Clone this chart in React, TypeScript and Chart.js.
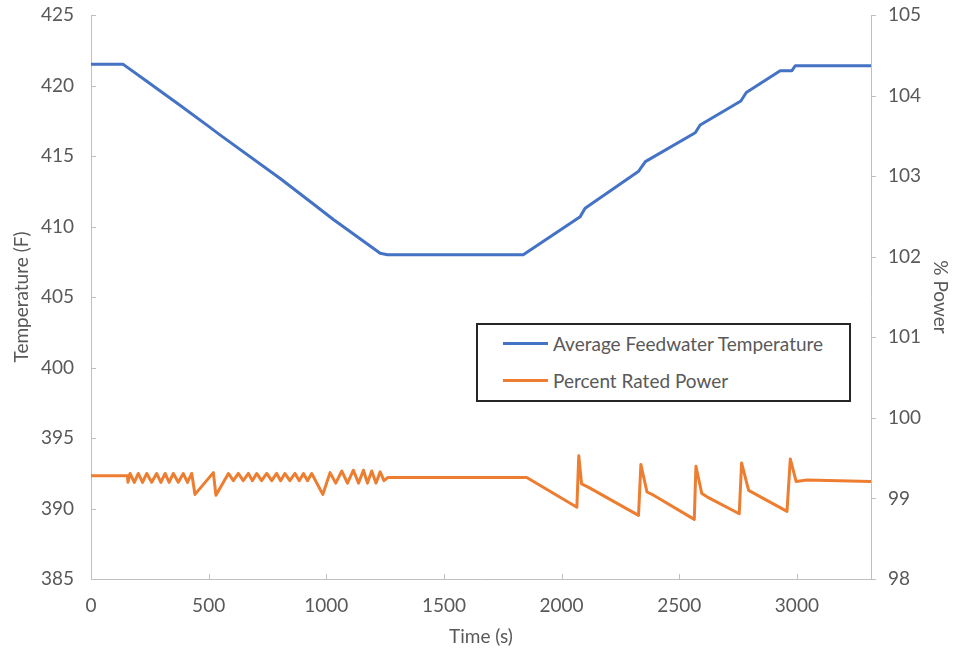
import React, { useEffect, useRef } from "react";
import { Chart, registerables } from "chart.js";

Chart.register(...registerables);

// ---- data ----
const tempTimes = [0, 137, 237, 378, 500, 548, 804, 945, 1030, 1229, 1260, 1837, 2079, 2100, 2326, 2356, 2568, 2589, 2762, 2785, 2929, 2979, 2993, 3315];
const tempValues = [421.5, 421.5, 420.3, 418.6, 417.1, 416.5, 413.4, 411.6, 410.5, 408.1, 408.0, 408.0, 410.7, 411.3, 413.9, 414.6, 416.65, 417.2, 418.9, 419.5, 421.05, 421.05, 421.4, 421.4];

const powerTimes = [
  0, 155, 157, 166, 184, 201, 219, 237, 258, 279, 297, 315, 332, 350, 371, 392, 410, 428, 442, 520, 531,
  584, 605, 626, 647, 669, 686, 704, 725, 747, 768, 789, 806, 824, 845, 867, 885, 903, 920, 938, 985,
  1016, 1040, 1066, 1090, 1115, 1137, 1158, 1175, 1193, 1211, 1229, 1245, 1262, 1500, 1852,
  2065, 2073, 2085, 2113, 2327, 2337, 2363, 2391, 2564, 2571, 2596, 2618, 2755, 2765, 2795, 2958, 2972, 2997, 3043, 3315,
];
const powerValues = [
  99.28, 99.28, 99.2, 99.31, 99.2, 99.31, 99.2, 99.31, 99.2, 99.31, 99.2, 99.31, 99.2, 99.31, 99.2, 99.31, 99.2, 99.31, 99.05, 99.32, 99.04,
  99.31, 99.22, 99.31, 99.22, 99.31, 99.22, 99.31, 99.22, 99.31, 99.22, 99.31, 99.22, 99.31, 99.22, 99.31, 99.22, 99.31, 99.22, 99.31, 99.05,
  99.32, 99.19, 99.34, 99.19, 99.35, 99.19, 99.35, 99.19, 99.34, 99.19, 99.33, 99.22, 99.26, 99.26, 99.26,
  98.89, 99.53, 99.18, 99.14, 98.79, 99.42, 99.08, 99.04, 98.74, 99.4, 99.06, 99.02, 98.81, 99.44, 99.1, 98.84, 99.49, 99.21, 99.23, 99.21,
];

const xTickValues = [0, 500, 1000, 1500, 2000, 2500, 3000];
const tempTickValues = [385, 390, 395, 400, 405, 410, 415, 420, 425];
const powerTickValues = [98, 99, 100, 101, 102, 103, 104, 105];

const seriesNames = ["Average Feedwater Temperature", "Percent Rated Power"];
const xTitle = "Time (s)";
const yTitle = "Temperature (F)";
const y1Title = "% Power";

// ---- styles ----
const BLUE = "#4472C4";
const ORANGE = "#ED7D31";
const AXIS = "#BFBFBF";
const TEXT = "#595959";
const FONT = "Lato, 'Open Sans', sans-serif";
const FS = 19;

const tickMarks = {
  id: "tickMarks",
  beforeDatasetsDraw(chart: any) {
    const ctx = chart.ctx;
    const { x, y, y1 } = chart.scales;
    ctx.save();
    ctx.strokeStyle = AXIS;
    ctx.lineWidth = 1;
    ctx.beginPath();
    x.ticks.forEach((t: any) => {
      const px = Math.round(x.getPixelForValue(t.value)) + 0.5;
      ctx.moveTo(px, x.top);
      ctx.lineTo(px, x.top - 5);
    });
    y.ticks.forEach((t: any) => {
      const py = Math.round(y.getPixelForValue(t.value)) + 0.5;
      ctx.moveTo(y.right, py);
      ctx.lineTo(y.right + 5, py);
    });
    y1.ticks.forEach((t: any) => {
      const py = Math.round(y1.getPixelForValue(t.value)) + 0.5;
      ctx.moveTo(y1.left, py);
      ctx.lineTo(y1.left + 5, py);
    });
    ctx.stroke();
    ctx.restore();
  },
};

export default function App() {
  const ref = useRef<HTMLCanvasElement | null>(null);

  useEffect(() => {
    if (!ref.current) return;
    const font = { family: FONT, size: FS };
    const titleFont = { family: FONT, size: FS, lineHeight: 1 };
    const plain = (v: any) => String(v);
    const chart = new Chart(ref.current, {
      type: "line",
      data: {
        datasets: [
          {
            label: seriesNames[0],
            data: tempTimes.map((t, i) => ({ x: t, y: tempValues[i] })),
            borderColor: BLUE,
            backgroundColor: BLUE,
            borderWidth: 3,
            pointRadius: 0,
            tension: 0,
            yAxisID: "y",
            borderJoinStyle: "round",
          },
          {
            label: seriesNames[1],
            data: powerTimes.map((t, i) => ({ x: t, y: powerValues[i] })),
            borderColor: ORANGE,
            backgroundColor: ORANGE,
            borderWidth: 3,
            pointRadius: 0,
            tension: 0,
            yAxisID: "y1",
            borderJoinStyle: "round",
          },
        ],
      },
      options: {
        animation: false,
        responsive: false,
        devicePixelRatio: 1,
        events: [],
        layout: { padding: { top: 15, left: 0, right: 0, bottom: 0 } },
        plugins: { legend: { display: false }, tooltip: { enabled: false } },
        scales: {
          x: {
            type: "linear",
            min: 0,
            max: 3315,
            afterBuildTicks: (s: any) => {
              s.ticks = xTickValues.map((v) => ({ value: v }));
            },
            afterFit: (s: any) => {
              s.height = 78;
              s.paddingLeft = 0;
              s.paddingRight = 0;
            },
            grid: { display: true, drawOnChartArea: false, drawTicks: false },
            border: { display: true, color: AXIS, width: 1 },
            ticks: { font, color: TEXT, padding: 15, maxRotation: 0, autoSkip: false, callback: plain },
            title: { display: true, text: xTitle, font: titleFont, color: TEXT, padding: { top: 0, bottom: 11 } },
          },
          y: {
            type: "linear",
            position: "left",
            min: 385,
            max: 425,
            afterBuildTicks: (s: any) => {
              s.ticks = tempTickValues.map((v) => ({ value: v }));
            },
            afterFit: (s: any) => {
              s.width = 91;
              s.paddingTop = 0;
              s.paddingBottom = 0;
            },
            grid: { display: true, drawOnChartArea: false, drawTicks: false },
            border: { display: true, color: AXIS, width: 1 },
            ticks: { font, color: TEXT, padding: 17, autoSkip: false, callback: plain },
            title: { display: true, text: yTitle, font: titleFont, color: TEXT, padding: { top: 12.5, bottom: 0 } },
          },
          y1: {
            type: "linear",
            position: "right",
            min: 98,
            max: 105,
            afterBuildTicks: (s: any) => {
              s.ticks = powerTickValues.map((v) => ({ value: v }));
            },
            afterFit: (s: any) => {
              s.width = 85;
              s.paddingTop = 0;
              s.paddingBottom = 0;
            },
            grid: { display: true, drawOnChartArea: false, drawTicks: false },
            border: { display: true, color: AXIS, width: 1 },
            ticks: { font, color: TEXT, padding: 17, autoSkip: false, callback: plain },
            title: { display: true, text: y1Title, font: titleFont, color: TEXT, padding: { top: 6, bottom: 0 } },
          },
        },
      },
      plugins: [tickMarks],
    } as any);
    return () => chart.destroy();
  }, []);

  const legendItem = (name: string, color: string) => (
    <div style={{ display: "flex", alignItems: "center", height: 37 }}>
      <div style={{ width: 45, height: 3, background: color, marginLeft: 25, marginRight: 5 }} />
      <span style={{ fontFamily: FONT, fontSize: FS, color: TEXT, whiteSpace: "nowrap" }}>{name}</span>
    </div>
  );

  return (
    <div style={{ position: "absolute", left: 0, top: 0, width: 956, height: 657, background: "#fff" }}>
      <canvas ref={ref} width={956} height={657} style={{ width: 956, height: 657, display: "block" }} />
      <div
        style={{
          position: "absolute",
          left: 476,
          top: 323,
          width: 375,
          height: 79,
          boxSizing: "border-box",
          border: "2px solid #262626",
          background: "#fff",
          paddingTop: 0,
        }}
      >
        {legendItem(seriesNames[0], BLUE)}
        {legendItem(seriesNames[1], ORANGE)}
      </div>
    </div>
  );
}
